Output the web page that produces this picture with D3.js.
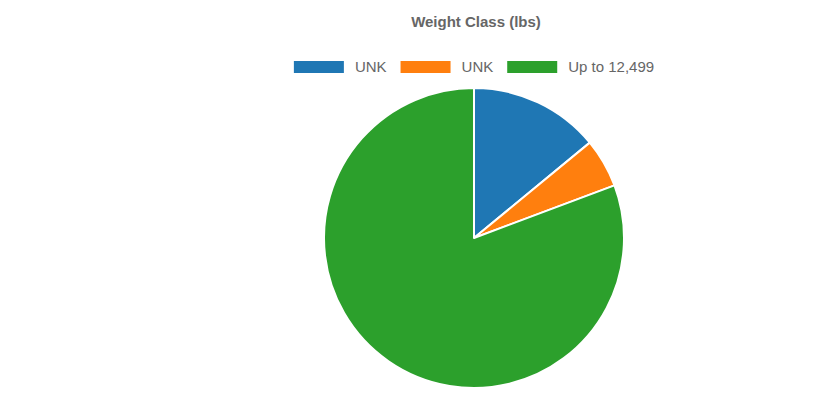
<!DOCTYPE html>
<html>
<head>
<meta charset="utf-8">
<script src="https://cdn.jsdelivr.net/npm/d3@7"></script>
<style>
  html, body { margin: 0; padding: 0; background: #fff; }
  svg { display: block; font-family: "Liberation Sans", Arial, sans-serif; }
</style>
</head>
<body>
<svg id="chart" width="837" height="394"></svg>
<script>
// Weight class breakdown
const categories = ["UNK", "UNK", "Up to 12,499"];
const counts = [8, 3, 46];
const colors = ["#1f77b4", "#ff7f0e", "#2ca02c"];
const title = "Weight Class (lbs)";

const svg = d3.select("#chart");
const width = 837;
const cx = 474, cy = 238, radius = 150;

// Title
svg.append("text")
  .attr("x", cx + 2)
  .attr("y", 27)
  .attr("text-anchor", "middle")
  .attr("font-size", 15)
  .attr("font-weight", "bold")
  .attr("fill", "#666")
  .text(title);

// Legend: boxes + labels, centred as a row
const boxW = 50, boxH = 12, gapText = 11, gapItem = 14, legendY = 67;
const legend = svg.append("g");
const items = legend.selectAll("g.item")
  .data(categories.map((c, i) => ({ label: c, color: colors[i] })))
  .join("g").attr("class", "item");

items.append("rect")
  .attr("width", boxW).attr("height", boxH)
  .attr("y", legendY - boxH / 2)
  .attr("fill", d => d.color);

items.append("text")
  .attr("x", boxW + gapText)
  .attr("y", legendY + 5)
  .attr("font-size", 15)
  .attr("fill", "#666")
  .text(d => d.label);

let offset = 0;
const widths = [];
items.each(function () {
  const w = boxW + gapText + d3.select(this).select("text").node().getComputedTextLength();
  widths.push(w);
});
const total = d3.sum(widths) + gapItem * (widths.length - 1);
offset = cx - total / 2;
items.attr("transform", (d, i) => {
  const x = offset;
  offset += widths[i] + gapItem;
  return `translate(${x},0)`;
});

// Pie
const pie = d3.pie().sort(null).value(d => d);
const arc = d3.arc().innerRadius(0).outerRadius(radius);

svg.append("g")
  .attr("transform", `translate(${cx},${cy})`)
  .selectAll("path")
  .data(pie(counts))
  .join("path")
  .attr("d", arc)
  .attr("fill", (d, i) => colors[i])
  .attr("stroke", "#fff")
  .attr("stroke-width", 2)
  .attr("stroke-linejoin", "round");
</script>
</body>
</html>
